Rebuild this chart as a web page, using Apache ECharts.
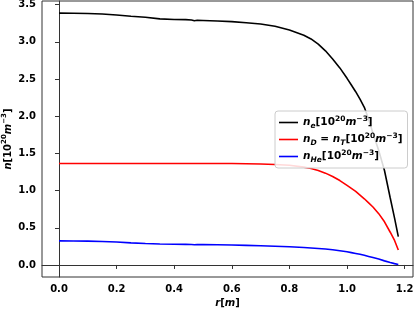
<!DOCTYPE html>
<html>
<head>
<meta charset="utf-8">
<script src="https://cdn.jsdelivr.net/npm/echarts@6/dist/echarts.min.js"></script>
<style>
html,body{margin:0;padding:0;background:#fff;}
#chart{width:415px;height:310px;}
</style>
</head>
<body>
<div id="chart"></div>
<script>
const rValues = [0, 0.05, 0.1, 0.15, 0.2, 0.25, 0.3, 0.35, 0.4, 0.44, 0.46, 0.47, 0.48, 0.5, 0.55, 0.6, 0.65, 0.7, 0.75, 0.8, 0.85, 0.875, 0.9, 0.925, 0.95, 0.975, 1.0, 1.015, 1.03, 1.045, 1.06, 1.075, 1.09, 1.11, 1.13, 1.15, 1.165, 1.178];
const neValues = [3.387, 3.386, 3.382, 3.376, 3.362, 3.345, 3.332, 3.31, 3.302, 3.300, 3.295, 3.284, 3.290, 3.288, 3.280, 3.272, 3.258, 3.24, 3.21, 3.16, 3.09, 3.04, 2.97, 2.88, 2.77, 2.65, 2.51, 2.42, 2.33, 2.23, 2.12, 1.96, 1.77, 1.54, 1.27, 0.90, 0.63, 0.38];
const nDValues = [1.365, 1.365, 1.365, 1.365, 1.365, 1.365, 1.365, 1.365, 1.365, 1.365, 1.365, 1.364, 1.365, 1.365, 1.364, 1.364, 1.362, 1.358, 1.352, 1.34, 1.316, 1.297, 1.27, 1.235, 1.19, 1.135, 1.07, 1.03, 0.99, 0.94, 0.89, 0.835, 0.78, 0.69, 0.58, 0.44, 0.33, 0.20];
const nHeValues = [0.324, 0.323, 0.321, 0.316, 0.308, 0.297, 0.288, 0.281, 0.278, 0.277, 0.275, 0.271, 0.274, 0.273, 0.271, 0.268, 0.264, 0.259, 0.252, 0.244, 0.234, 0.229, 0.222, 0.214, 0.205, 0.192, 0.177, 0.166, 0.155, 0.143, 0.13, 0.115, 0.10, 0.08, 0.055, 0.032, 0.018, 0.007];
const xTicks = [0, 0.2, 0.4, 0.6, 0.8, 1.0, 1.2];
const yTicks = [0, 0.5, 1.0, 1.5, 2.0, 2.5, 3.0, 3.5];
const seriesNames = ['ne', 'nD', 'nHe'];
const seriesColors = ['#000000', '#ff0000', '#0000ff'];

const FONT = 'DejaVu Sans';
const rich = {
  b: {fontFamily: FONT, fontWeight: 'bold', fontStyle: 'italic', fontSize: 10, color: '#000', lineHeight: 15, verticalAlign: 'middle'},
  r: {fontFamily: FONT, fontWeight: 'bold', fontSize: 10, color: '#000', lineHeight: 15, verticalAlign: 'middle'},
  supr: {fontFamily: FONT, fontWeight: 'bold', fontSize: 7, color: '#000', lineHeight: 15, verticalAlign: 'top'},
  sub: {fontFamily: FONT, fontWeight: 'bold', fontStyle: 'italic', fontSize: 7, color: '#000', lineHeight: 15, verticalAlign: 'bottom'}
};
const richL = {
  b: Object.assign({}, rich.b, {fontSize: 10.5}),
  r: Object.assign({}, rich.r, {fontSize: 10.5}),
  supr: Object.assign({}, rich.supr, {fontSize: 7.5}),
  sub: Object.assign({}, rich.sub, {fontSize: 7.5})
};
const unit = '{r|[10}{supr|20}{b|m}{supr|−3}{r|]}';
const legendLabels = {
  ne: '{b|n}{sub|e}' + unit,
  nD: '{b|n}{sub|D}{r| = }{b|n}{sub|T}' + unit,
  nHe: '{b|n}{sub|He}' + unit
};

function pairs(vals) { return rValues.map((r, i) => [r, vals[i]]); }
const allValues = [neValues, nDValues, nHeValues];

const chart = echarts.init(document.getElementById('chart'), null, {renderer: 'canvas'});
chart.setOption({
  animation: false,
  backgroundColor: '#fff',
  grid: {left: 42, top: 1, right: 2, bottom: 33, show: true, borderColor: '#333', borderWidth: 1, backgroundColor: 'transparent', containLabel: false, outerBoundsMode: 'none'},
  legend: {
    orient: 'vertical',
    left: 275, top: 111,
    data: seriesNames,
    icon: 'rect',
    itemWidth: 19, itemHeight: 1.6, itemGap: 2,
    padding: [4, 5, 4, 4],
    backgroundColor: 'rgba(255,255,255,0.85)',
    borderColor: '#cccccc', borderWidth: 1, borderRadius: 3,
    formatter: name => legendLabels[name],
    textStyle: {rich: richL, fontFamily: FONT}
  },
  xAxis: {
    type: 'value', min: -0.059, max: 1.229,
    name: '{b|r}{r|[}{b|m}{r|]}', nameLocation: 'middle', nameGap: 19, nameMoveOverlap: false,
    nameTextStyle: {rich: rich},
    axisLine: {show: true, lineStyle: {color: '#333', width: 1}},
    axisTick: {show: true, inside: false, length: 4, customValues: xTicks, lineStyle: {color: '#333'}},
    axisLabel: {customValues: xTicks, margin: 7, fontFamily: FONT, fontWeight: 'bold', fontSize: 10, color: '#000', formatter: v => v.toFixed(1)},
    splitLine: {show: false}
  },
  yAxis: {
    type: 'value', min: -0.162, max: 3.55,
    name: '{b|n}{r|[10}{supr|20}{b|m}{supr|−3}{r|]}', nameLocation: 'middle', nameGap: 26, nameRotate: 90, nameMoveOverlap: false,
    nameTextStyle: {rich: rich},
    axisLine: {show: true, lineStyle: {color: '#333', width: 1}},
    axisTick: {show: true, inside: false, length: 4, customValues: yTicks, lineStyle: {color: '#333'}},
    axisLabel: {customValues: yTicks, margin: 6, fontFamily: FONT, fontWeight: 'bold', fontSize: 10, color: '#000', formatter: v => v.toFixed(1)},
    splitLine: {show: false}
  },
  series: seriesNames.map((n, i) => ({
    name: n, type: 'line', data: pairs(allValues[i]),
    symbol: 'none', smooth: false,
    lineStyle: {color: seriesColors[i], width: 1.6},
    itemStyle: {color: seriesColors[i]}
  }))
});
</script>
</body>
</html>
